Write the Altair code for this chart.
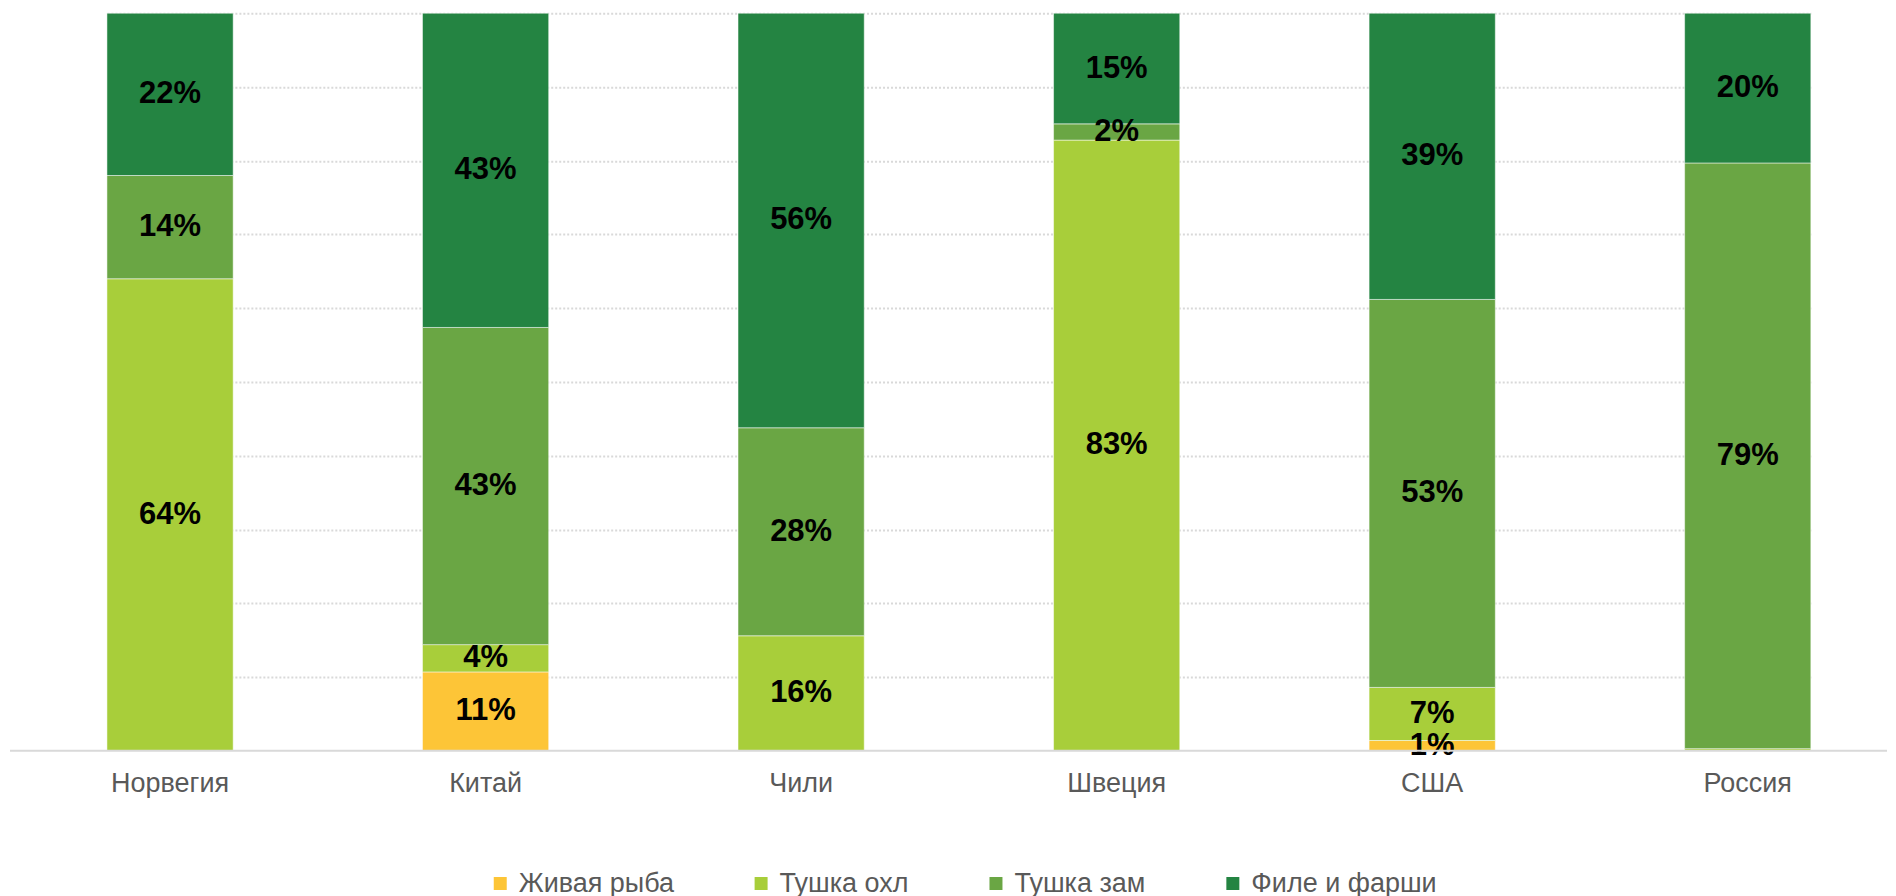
import altair as alt
import pandas as pd

countries = ["Норвегия", "Китай", "Чили", "Швеция", "США", "Россия"]
series = ["Живая рыба", "Тушка охл", "Тушка зам", "Филе и фарши"]
colors = ["#FDC537", "#A8CE3A", "#6AA644", "#248442"]

zhivaya = [0.0, 10.7, 0.0, 0.0, 1.4, 0.0]
tushka_ohl = [64.0, 3.7, 15.6, 82.8, 7.2, 0.3]
tushka_zam = [14.0, 43.0, 28.2, 2.2, 52.6, 79.4]
file_farshi = [22.0, 42.6, 56.2, 15.0, 38.8, 20.3]

rows = []
for i, c in enumerate(countries):
    base = 0.0
    for s, vals in zip(series, [zhivaya, tushka_ohl, tushka_zam, file_farshi]):
        v = vals[i]
        rows.append({"country": c, "series": s, "v0": base, "v1": base + v,
                     "mid": base + v / 2, "value": v,
                     "label": f"{round(v):d}%" if v >= 0.5 else ""})
        base += v
df = pd.DataFrame(rows)

W, H = 1880, 738
FONT = "Liberation Sans"

xscale = alt.Scale(domain=countries, range=[99, 1803.8], paddingInner=0.6, paddingOuter=0)
yscale = alt.Scale(domain=[0, 100], nice=False)

bars = alt.Chart(df).mark_bar(stroke="white", strokeWidth=1, strokeOpacity=0.5).encode(
    x=alt.X("country:N", scale=xscale, sort=countries,
            axis=alt.Axis(title=None, ticks=False, domain=False, labelAngle=0,
                          labelFont=FONT, labelFontSize=27, labelColor="#595959",
                          labelPadding=20)),
    y=alt.Y("v0:Q", scale=yscale,
            axis=alt.Axis(title=None, labels=False, ticks=False, domain=False,
                          values=[10, 20, 30, 40, 50, 60, 70, 80, 90, 100],
                          grid=True, gridColor="#D9D9D9", gridWidth=2, gridDash=[2, 2])),
    y2="v1:Q",
    color=alt.Color("series:N", scale=alt.Scale(domain=series, range=colors),
                    legend=alt.Legend(title=None, orient="none", legendX=479, legendY=857,
                                      direction="horizontal", columns=4,
                                      symbolType="square", symbolSize=169,
                                      symbolStrokeWidth=0, symbolOpacity=1,
                                      labelFont=FONT, labelFontSize=27,
                                      labelColor="#595959", labelLimit=400,
                                      labelOffset=5, columnPadding=73)),
)

texts = alt.Chart(df).mark_text(font=FONT, fontSize=31, fontWeight="bold",
                                color="black", baseline="middle").encode(
    x=alt.X("country:N", scale=xscale, sort=countries),
    y=alt.Y("mid:Q", scale=yscale),
    text="label:N",
)

baseline = alt.Chart(pd.DataFrame({"y": [0]})).mark_rule(color="#D9D9D9", strokeWidth=2).encode(
    y=alt.Y("y:Q", scale=yscale),
    x=alt.value(2),
    x2=alt.value(W),
)

chart = alt.layer(bars, texts, baseline).properties(
    width=W, height=H, background="white",
    padding={"left": 0, "top": 4, "right": 0, "bottom": 0},
).configure_view(stroke=None)

chart.save("out.html", embed_options={"renderer": "svg", "actions": False})
